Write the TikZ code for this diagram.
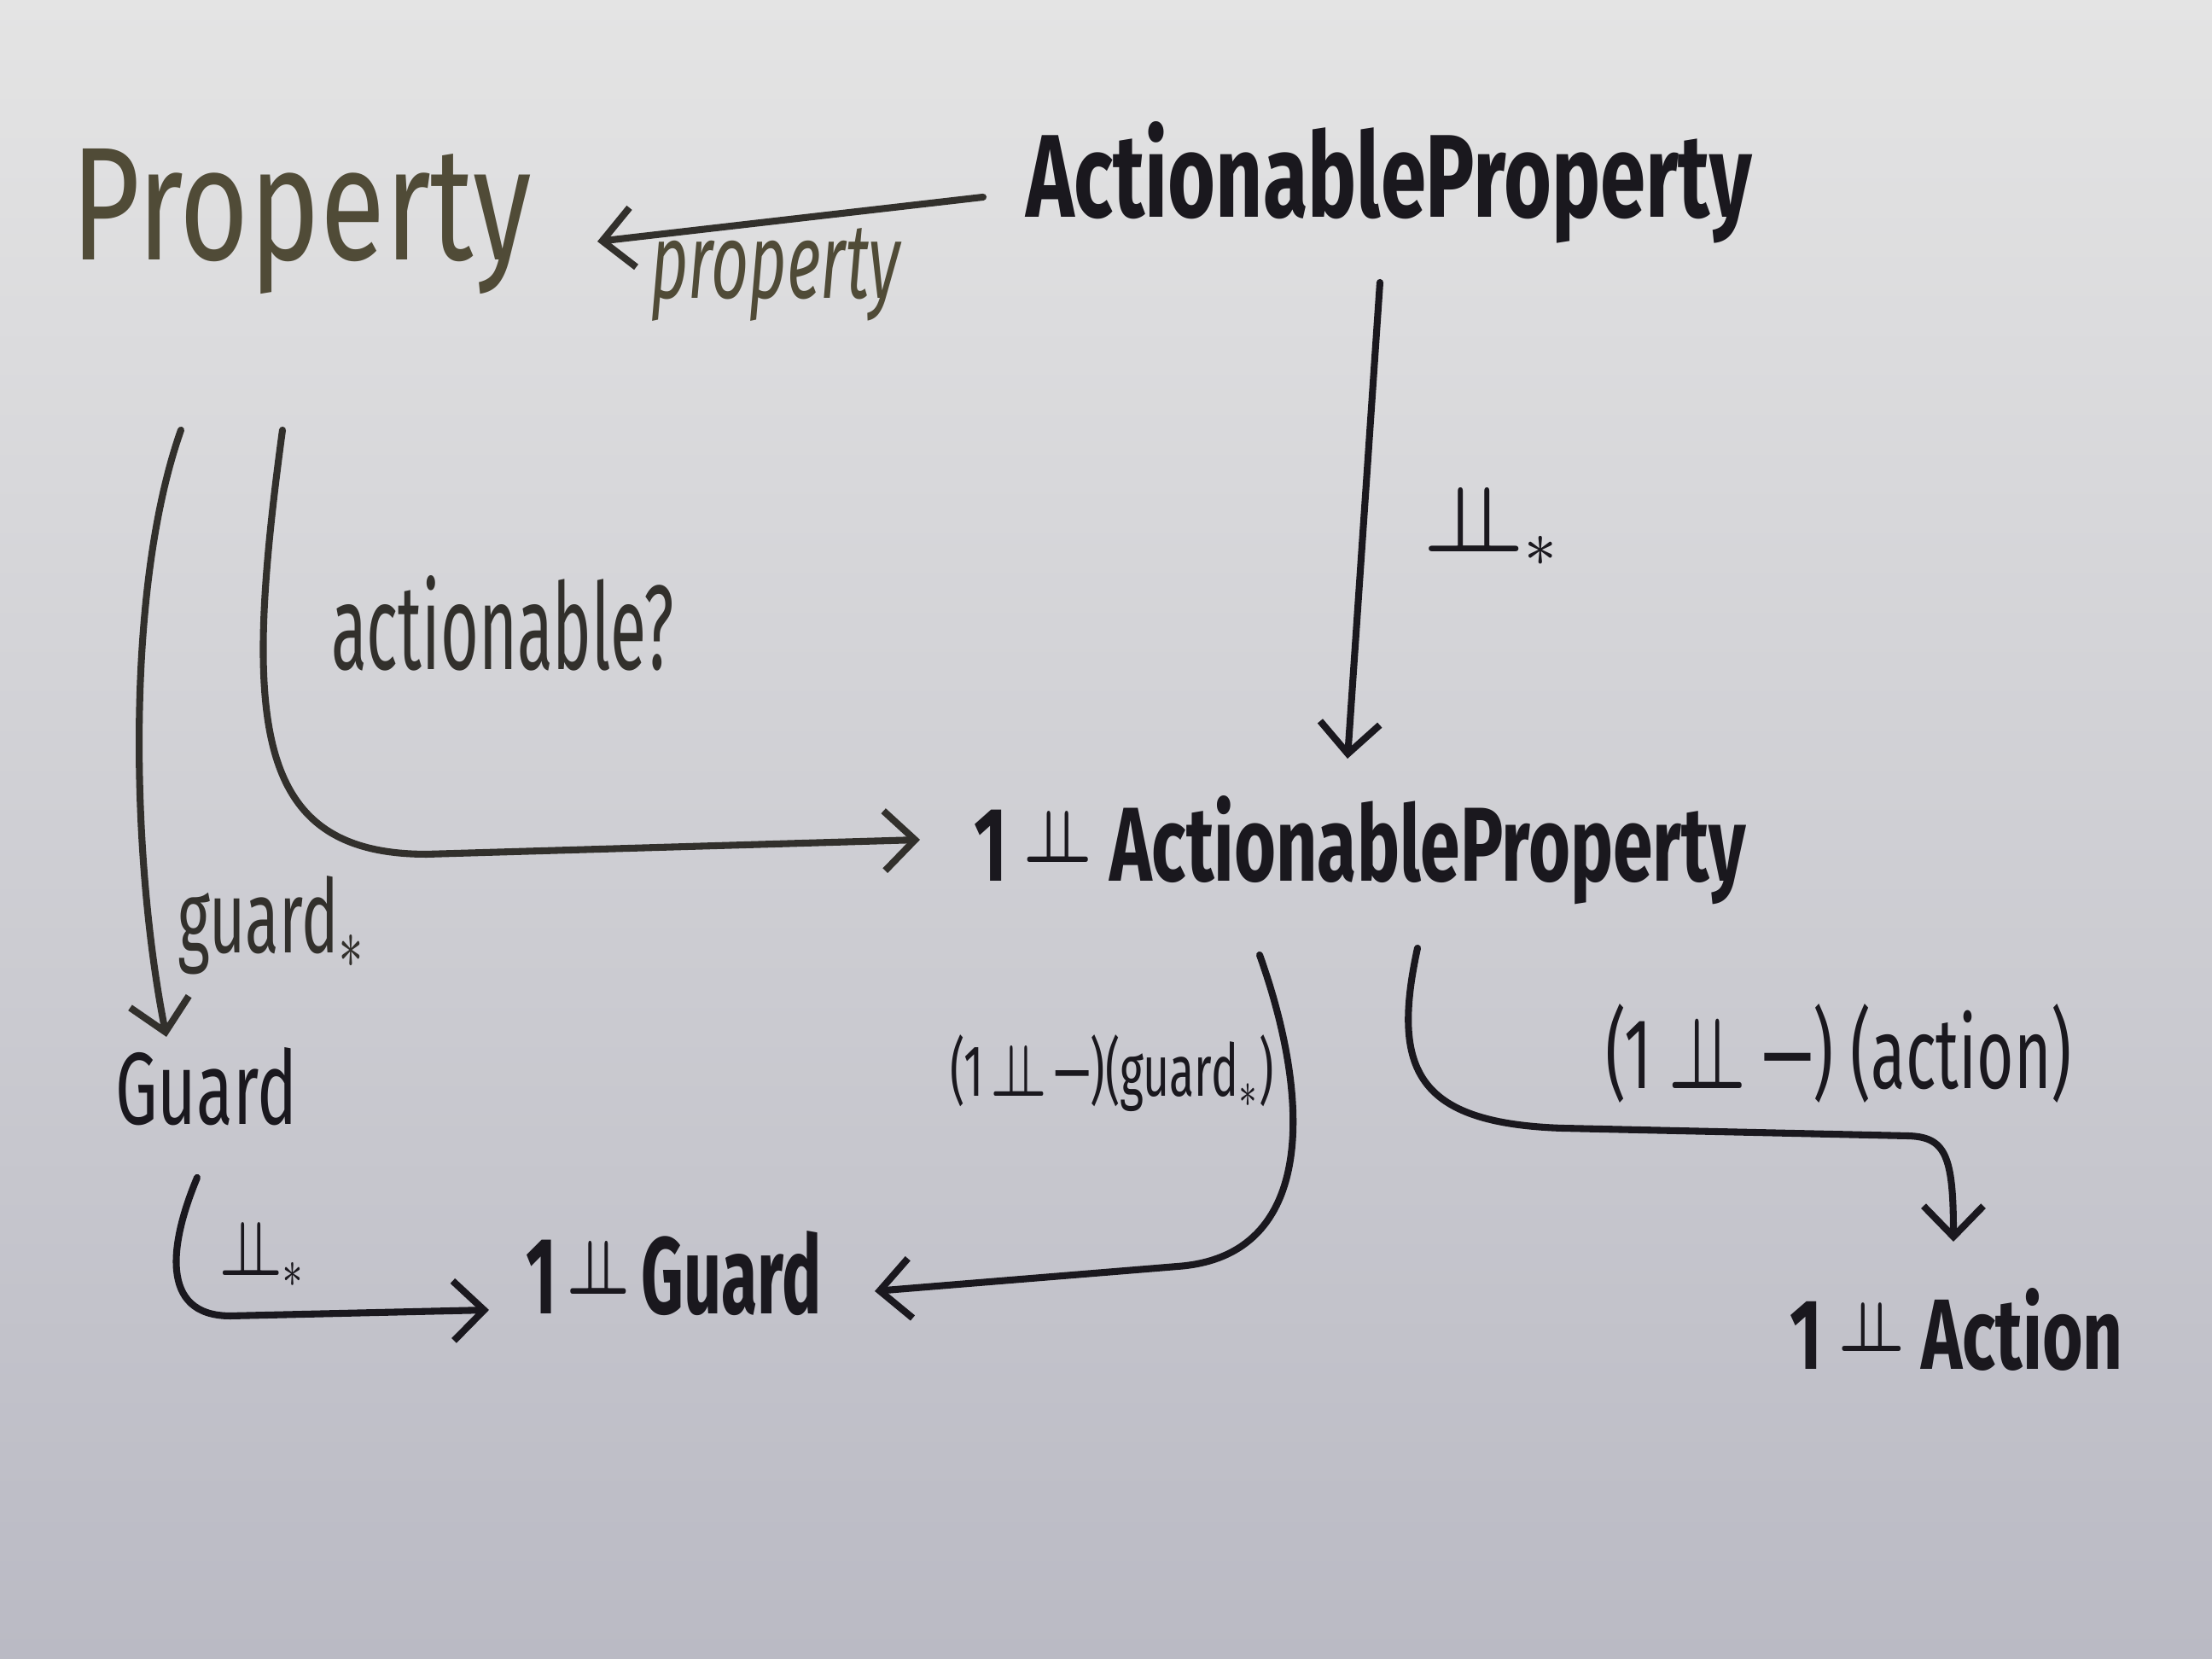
\documentclass[tikz,border=0pt]{standalone}
\usepackage{amsmath}
\usepackage{amssymb}
\usepackage{graphicx}
\usepackage{fontspec}
\setmainfont{Fira Sans}
\usepackage{tikz}
\usetikzlibrary{calc,%
                arrows.meta,%
                positioning}
\definecolor{board-top}{RGB}{228,228,228}
\definecolor{board-mid}{RGB}{206,204,210}
\definecolor{board-bottom}{RGB}{186,186,196}
\definecolor{ink}{RGB}{26,24,30}
\definecolor{ink-grey}{RGB}{50,48,44}
\definecolor{ink-olive}{RGB}{80,75,55}
\newcommand{\indep}{\ensuremath{\boldsymbol{\perp\!\!\!\perp}}}
\newcommand{\sindep}{\raisebox{0.35ex}{$\scriptstyle\boldsymbol{\perp\!\!\!\perp}$}}
\newcommand{\wb}[3]{\resizebox{#1}{#2}{#3}}
\newcommand{\wbt}[3]{\resizebox*{#1}{#2}{#3}}
\tikzset{
  word/.style={inner sep=0pt, outer sep=0pt, anchor=base west, text=ink, font=\bfseries},
  thinword/.style={word, font=\normalfont},
  arr/.style={ink, line width=2.3pt, line cap=round, line join=round,
              -{Straight Barb[length=3.6mm,width=7mm]}},
}

\begin{document}
\begin{tikzpicture}
  % whiteboard
  \shade[top color=board-top, middle color=board-mid, bottom color=board-bottom] (0,0) rectangle (25.92,19.44);
  \useasboundingbox (0,0) rectangle (25.92,19.44);

  % objects
  \node[thinword, text=ink-olive] (prop) at (0.83,16.39) {\wb{5.40cm}{1.30cm}{Property}};
  \node[word] (aprop) at (12.02,16.89) {\wb{8.51cm}{1.12cm}{ActionableProperty}};
  \node[word] (maybeaprop) at (11.41,9.11) {\wb{9.05cm}{1.00cm}{1\ \sindep\ ActionableProperty}};
  \node[thinword] (guard) at (1.35,6.26) {\wb{2.13cm}{0.90cm}{Guard}};
  \node[word] (maybeguard) at (6.16,4.04) {\wb{3.47cm}{0.97cm}{1\,\sindep\,Guard}};
  \node[word] (maybeaction) at (20.97,3.39) {\wb{3.91cm}{0.95cm}{1\ \sindep\ Action}};

  % labels
  \node[thinword, text=ink-olive, font=\itshape] (lprop) at (7.62,15.94) {\wb{2.93cm}{0.82cm}{property}};
  \node[thinword] (lsum) at (16.68,12.97) {\wb{1.62cm}{0.75cm}{\indep$_*$}};
  \node[thinword, text=ink-grey] (lactionable) at (3.88,11.59) {\wb{4.02cm}{1.10cm}{actionable?}};
  \node[thinword, text=ink-grey] (lguard) at (2.08,8.27) {\wb{2.22cm}{0.90cm}{guard$_*$}};
  \node[thinword] (lsumb) at (2.57,4.49) {\wb{1.02cm}{0.62cm}{\indep$_*$}};
  \node[thinword, anchor=south west] (lmguard) at (11.13,6.41) {\wbt{3.80cm}{0.90cm}{(1\,\indep\,—)(guard$_*$)}};
  \node[thinword, anchor=south west] (lmaction) at (18.81,6.51) {\wbt{5.47cm}{1.16cm}{(1\ \indep\ —)\ (action)}};

  % arrows
  \draw[arr, ink-grey] ($(aprop.base west)+(-0.50,0.24)$) -- ($(prop.base west)+(6.17,0.22)$);
  \draw[arr] ($(aprop.base west)+(4.15,-0.76)$) -- ($(maybeaprop.base west)+(4.38,1.44)$);

  \draw[arr, ink-grey] ($(prop.base west)+(2.48,-1.99)$) .. controls (2.85,11.0) and (2.95,9.43) .. (5.0,9.43)
        -- ($(maybeaprop.base west)+(-0.63,0.49)$);
  \draw[arr, ink-grey] ($(prop.base west)+(1.29,-1.99)$) .. controls (1.45,12.5) and (1.55,9.3) .. ($(guard.base west)+(0.60,1.03)$);

  \draw[arr] ($(guard.base west)+(0.96,-0.62)$) .. controls (2.0,4.9) and (1.85,4.02) .. (2.7,4.02)
        -- ($(maybeguard.base west)+(-0.43,0.05)$);

  \draw[arr] ($(maybeaprop.base west)+(3.35,-0.86)$) .. controls (15.35,6.6) and (15.45,4.72) .. (13.8,4.6)
        -- ($(maybeguard.base west)+(4.09,0.27)$);
  \draw[arr] ($(maybeaprop.base west)+(5.20,-0.78)$) .. controls (16.3,6.9) and (16.6,6.28) .. (18.3,6.22)
        -- (22.35,6.13) .. controls (22.8,6.12) and (22.89,5.9) .. ($(maybeaction.base west)+(1.92,1.50)$);

\end{tikzpicture}
\end{document}
